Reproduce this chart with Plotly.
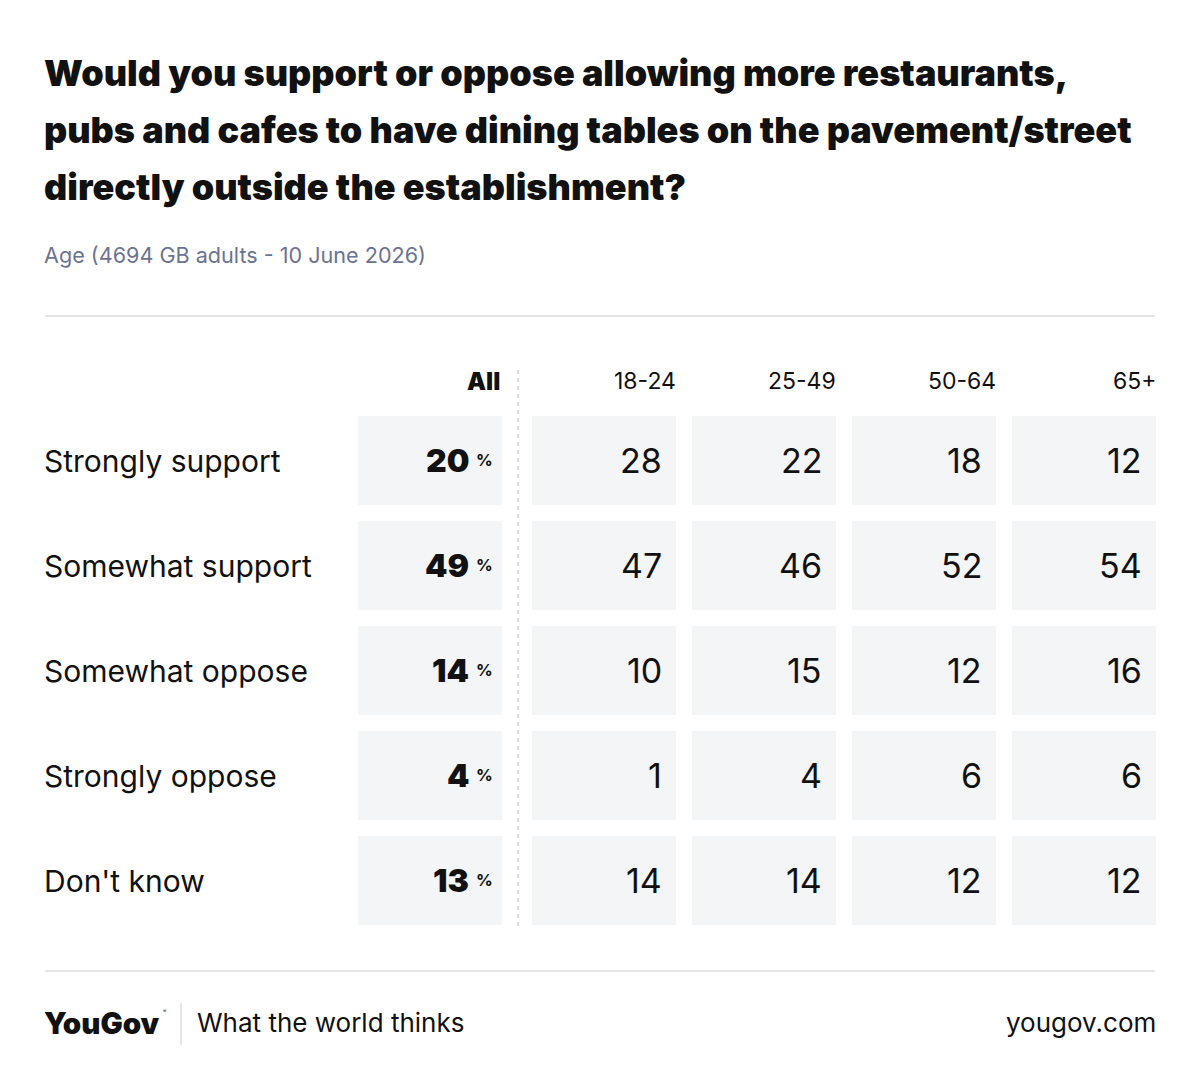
import plotly.graph_objects as go

# data
title_lines = [
    "Would you support or oppose allowing more restaurants,",
    "pubs and cafes to have dining tables on the pavement/street",
    "directly outside the establishment?",
]
subtitle = "Age (4694 GB adults - 10 June 2026)"
answers = ["Strongly support", "Somewhat support", "Somewhat oppose", "Strongly oppose", "Don't know"]
all_values = [20, 49, 14, 4, 13]
age_groups = ["18-24", "25-49", "50-64", "65+"]
age_values = {
    "18-24": [28, 47, 10, 1, 14],
    "25-49": [22, 46, 15, 4, 14],
    "50-64": [18, 52, 12, 6, 12],
    "65+": [12, 54, 16, 6, 12],
}

# page body has an 8px margin, so the figure is a bit smaller than the window
OFF = 8
W, H = 1200 - 2 * OFF, 1091 - 2 * OFF
FONT = "Inter"
CELL = "#f4f5f7"
INK = "#111111"
LEFT = 42


def px_x(p):
    return (p - OFF) / W


def px_y(p):
    return 1 - (p - OFF) / H


def txt(size, weight=400, color=INK):
    return dict(family=FONT, size=size, weight=weight, color=color)


fig = go.Figure()

grey = [[0, CELL], [1, CELL]]
fig.add_trace(go.Heatmap(
    x=["All"], y=answers, z=[[1] for _ in answers],
    colorscale=grey, showscale=False, xgap=16, ygap=16,
    hoverinfo="skip", xaxis="x", yaxis="y",
))
fig.add_trace(go.Heatmap(
    x=age_groups, y=answers,
    z=[[1] * len(age_groups) for _ in answers],
    colorscale=grey, showscale=False, xgap=16, ygap=16,
    hoverinfo="skip", xaxis="x2", yaxis="y",
))

ann = []
# title + subtitle
for i, line in enumerate(title_lines):
    ann.append(dict(text=line, x=px_x(LEFT), y=px_y(73 + i * 57),
                    xref="paper", yref="paper", xanchor="left", yanchor="middle",
                    showarrow=False, font=txt(36, 900)))
ann.append(dict(text=subtitle, x=px_x(LEFT), y=px_y(255), xref="paper", yref="paper",
                xanchor="left", yanchor="middle", showarrow=False,
                font=txt(21.6, 400, "#6b7390")))

# column headers
ann.append(dict(text="All", x=0.5, xshift=-8, y=px_y(381), xref="x", yref="paper",
                xanchor="right", yanchor="middle", showarrow=False, font=txt(24, 900)))
for i, g in enumerate(age_groups):
    ann.append(dict(text=g, x=i + 0.5, xshift=-6, y=px_y(381), xref="x2", yref="paper",
                    xanchor="right", yanchor="middle", showarrow=False, font=txt(23)))

# row labels and values
for r, a in enumerate(answers):
    ann.append(dict(text=a, x=px_x(LEFT), y=a, xref="paper", yref="y",
                    xanchor="left", yanchor="middle", showarrow=False, font=txt(30)))
    ann.append(dict(text=str(all_values[r]), x=0.5, xshift=-39, y=a,
                    xref="x", yref="y", xanchor="right", yanchor="middle", showarrow=False,
                    font=txt(32, 900)))
    ann.append(dict(text="%", x=0.5, xshift=-15, y=a, yshift=1,
                    xref="x", yref="y", xanchor="right", yanchor="middle", showarrow=False,
                    font=txt(16.5, 700)))
    for i, g in enumerate(age_groups):
        ann.append(dict(text=str(age_values[g][r]), x=i + 0.5, xshift=-20, y=a,
                        xref="x2", yref="y", xanchor="right", yanchor="middle",
                        showarrow=False, font=txt(34)))

# footer
ann.append(dict(text="YouGov", x=px_x(LEFT), y=px_y(1023), xref="paper", yref="paper",
                xanchor="left", yanchor="middle", showarrow=False, font=txt(29.5, 900)))
ann.append(dict(text="®", x=px_x(161), y=px_y(1011), xref="paper", yref="paper",
                xanchor="left", yanchor="middle", showarrow=False, font=txt(5)))
ann.append(dict(text="What the world thinks", x=px_x(195), y=px_y(1022), xref="paper",
                yref="paper", xanchor="left", yanchor="middle", showarrow=False,
                font=txt(26)))
ann.append(dict(text="yougov.com", x=px_x(1158), y=px_y(1022), xref="paper",
                yref="paper", xanchor="right", yanchor="middle", showarrow=False,
                font=txt(26)))

line_col = "#dddde1"
shapes = [
    dict(type="line", xref="paper", yref="paper", x0=px_x(45), x1=px_x(1155),
         y0=px_y(316), y1=px_y(316), line=dict(color=line_col, width=1.5)),
    dict(type="line", xref="paper", yref="paper", x0=px_x(45), x1=px_x(1155),
         y0=px_y(971), y1=px_y(971), line=dict(color=line_col, width=1.5)),
    dict(type="line", xref="paper", yref="paper", x0=px_x(518), x1=px_x(518),
         y0=px_y(370), y1=px_y(926), line=dict(color="#cfd0d4", width=1.5, dash="4px,4px")),
    dict(type="line", xref="paper", yref="paper", x0=px_x(181), x1=px_x(181),
         y0=px_y(1003), y1=px_y(1045), line=dict(color="#d5d5d8", width=1.2)),
]

axis_off = dict(showgrid=False, zeroline=False, showticklabels=False, ticks="", showline=False)
fig.update_layout(
    width=W, height=H,
    margin=dict(l=0, r=0, t=0, b=0),
    paper_bgcolor="white", plot_bgcolor="white",
    showlegend=False,
    xaxis=dict(domain=[px_x(350), px_x(510)], fixedrange=True, **axis_off),
    xaxis2=dict(domain=[px_x(524), px_x(1164)], anchor="y", fixedrange=True, **axis_off),
    yaxis=dict(domain=[px_y(933), px_y(408)], autorange="reversed", fixedrange=True, **axis_off),
    annotations=ann,
    shapes=shapes,
)

fig.write_html("out.html", config={"displayModeBar": False})
